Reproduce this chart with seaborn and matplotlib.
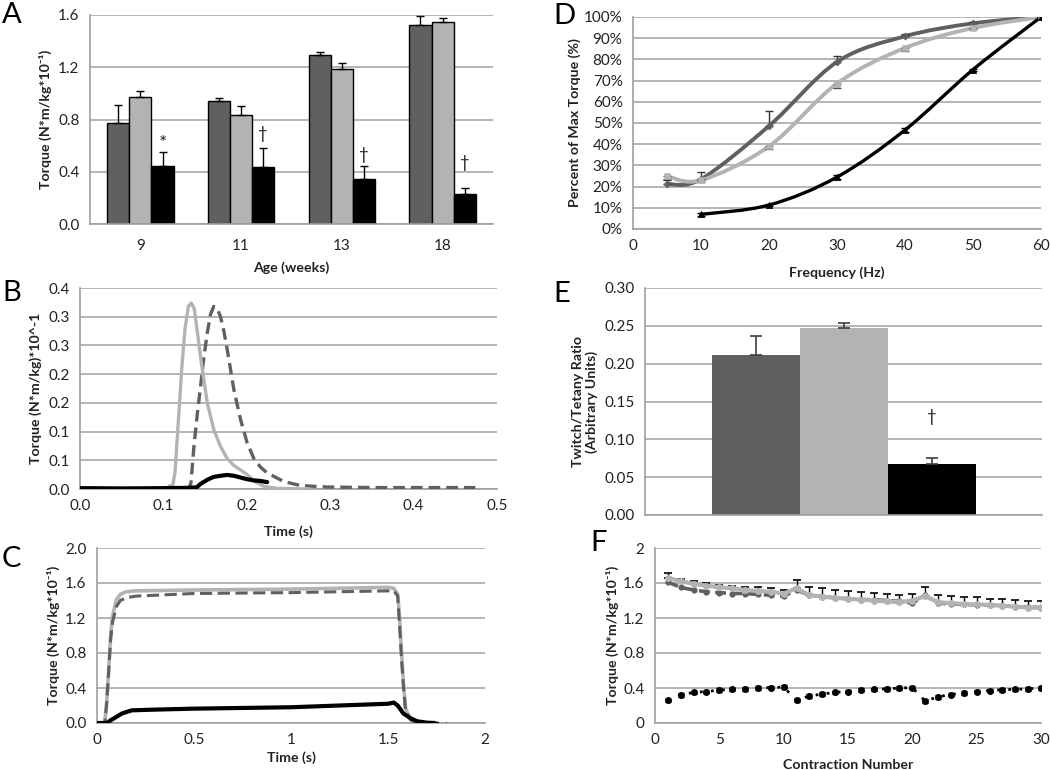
import numpy as np
import pandas as pd
import matplotlib
matplotlib.use("Agg")
import matplotlib.pyplot as plt
from matplotlib.path import Path
from matplotlib.patches import PathPatch
import seaborn as sns

sns.set_theme(style="white")
plt.rcParams['font.family'] = ['Lato', 'DejaVu Sans']

# ---------------- data ----------------
# Panel A
ages = ["9", "11", "13", "18"]
groups = ["G1", "G2", "G3"]
a_g1 = [0.777, 0.938, 1.297, 1.524]
a_g2 = [0.971, 0.836, 1.187, 1.544]
a_g3 = [0.441, 0.438, 0.344, 0.227]
a_g1_err = [0.135, 0.023, 0.020, 0.071]
a_g2_err = [0.048, 0.069, 0.046, 0.031]
a_g3_err = [0.107, 0.143, 0.099, 0.051]
a_sig = ["*", "†", "†", "†"]
a_sig_y = [0.62, 0.69, 0.53, 0.47]

# Panel D
d_x1 = [5, 10, 20, 30, 40, 50, 60]
d_g1 = [21.2, 23.5, 48.6, 78.8, 90.9, 97.0, 100.0]
d_g1_err = [2.0, 3.3, 6.9, 2.6, 1.2, 0.5, 0.0]
d_g2 = [25.0, 23.0, 39.0, 68.6, 85.4, 94.8, 100.0]
d_g2_err = [1.5, 1.0, 1.3, 1.9, 1.6, 0.6, 0.0]
d_x3 = [10, 20, 30, 40, 50, 60]
d_g3 = [6.9, 11.3, 24.5, 46.7, 75.2, 100.0]
d_g3_err = [0.6, 0.6, 0.8, 0.8, 0.5, 0.0]

# Panel B (twitch traces)
b_t2 = [0.0, 0.05, 0.100, 0.105, 0.108, 0.111, 0.114, 0.118, 0.122, 0.126, 0.130, 0.1334,
        0.137, 0.141, 0.145, 0.1526, 0.1605, 0.1685, 0.1765, 0.1845, 0.1925, 0.2005,
        0.2085, 0.220, 0.236, 0.275]
b_v2 = [0.0, 0.0, 0.0, 0.0, 0.006, 0.004, 0.03, 0.12, 0.21, 0.28, 0.318, 0.324,
        0.314, 0.27, 0.225, 0.150, 0.103, 0.074, 0.053, 0.041, 0.033, 0.025,
        0.014, 0.005, 0.001, 0.0]
b_t1 = [0.0, 0.05, 0.10, 0.13, 0.133, 0.1366, 0.1406, 0.1446, 0.1486, 0.1526, 0.1566,
        0.1605, 0.1645, 0.1685, 0.1725, 0.1765, 0.1845, 0.1925, 0.2005, 0.2085, 0.2165,
        0.2244, 0.2444, 0.2644, 0.296, 0.35, 0.474]
b_v1 = [0.0, 0.0, 0.0, 0.0, 0.01, 0.074, 0.13, 0.179, 0.23, 0.272, 0.305,
        0.318, 0.314, 0.30, 0.275, 0.243, 0.173, 0.121, 0.080, 0.053, 0.038,
        0.028, 0.013, 0.006, 0.0035, 0.0025, 0.0025]
b_t3 = [0.0, 0.05, 0.10, 0.13, 0.14, 0.1446, 0.1526, 0.16, 0.1685, 0.1765, 0.1845,
        0.1925, 0.2005, 0.2085, 0.2164, 0.2244]
b_v3 = [0.0015, 0.001, 0.0015, 0.002, 0.003, 0.009, 0.016, 0.021, 0.023, 0.0245, 0.023,
        0.020, 0.017, 0.015, 0.014, 0.012]
b_ticklabels = ["0.0", "0.1", "0.1", "0.2", "0.2", "0.3", "0.3", "0.4"]

# Panel E
e_groups = ["G1", "G2", "G3"]
e_vals = [0.212, 0.247, 0.0675]
e_err = [0.024, 0.007, 0.0084]

# Panel C (tetanus traces)
c_t2 = [0, 0.04, 0.05, 0.06, 0.07, 0.08, 0.10, 0.12, 0.15, 0.20, 0.5, 1.0, 1.5, 1.53,
        1.55, 1.56, 1.57, 1.58, 1.59, 1.61, 1.64, 1.68]
c_v2 = [0, 0, 0.25, 0.60, 0.99, 1.22, 1.41, 1.47, 1.50, 1.51, 1.52, 1.53, 1.55, 1.54,
        1.47, 1.20, 0.80, 0.45, 0.18, 0.05, 0.01, 0.0]
c_t1 = [0, 0.04, 0.05, 0.06, 0.07, 0.08, 0.10, 0.12, 0.15, 0.20, 0.5, 1.0, 1.5, 1.53,
        1.55, 1.56, 1.57, 1.58, 1.59, 1.62, 1.65]
c_v1 = [0, 0, 0.22, 0.58, 0.95, 1.15, 1.33, 1.40, 1.43, 1.45, 1.48, 1.49, 1.51, 1.51,
        1.45, 1.10, 0.72, 0.40, 0.15, 0.03, 0.005]
c_t3 = [0, 0.05, 0.07, 0.10, 0.13, 0.18, 0.3, 0.5, 1.0, 1.5, 1.53, 1.55, 1.58, 1.62,
        1.65, 1.70, 1.74]
c_v3 = [0, 0.0, 0.03, 0.07, 0.11, 0.145, 0.153, 0.164, 0.18, 0.22, 0.233, 0.20, 0.107,
        0.05, 0.02, 0.004, 0.0]
c_tail_t = [1.74, 1.80]
c_tail_v = [0.0, 0.0]

# Panel F (fatigue)
f_n = list(range(1, 31))
f_g1 = [1.61, 1.55, 1.52, 1.50, 1.49, 1.48, 1.48, 1.47, 1.46, 1.45, 1.52, 1.46, 1.445,
        1.43, 1.42, 1.41, 1.41, 1.40, 1.39, 1.37, 1.46, 1.37, 1.36, 1.355, 1.35, 1.345,
        1.34, 1.33, 1.325, 1.32]
f_g2 = [1.66, 1.62, 1.59, 1.57, 1.55, 1.54, 1.52, 1.51, 1.50, 1.48, 1.54, 1.46, 1.445,
        1.43, 1.42, 1.41, 1.40, 1.39, 1.38, 1.40, 1.45, 1.38, 1.37, 1.36, 1.355, 1.35,
        1.34, 1.33, 1.32, 1.315]
f_g2_err = [0.05, 0.025, 0.03, 0.03, 0.03, 0.03, 0.04, 0.04, 0.04, 0.045, 0.10, 0.10,
            0.095, 0.09, 0.09, 0.085, 0.085, 0.083, 0.08, 0.08, 0.11, 0.085, 0.08, 0.085,
            0.08, 0.07, 0.075, 0.08, 0.08, 0.075]
f_g3 = [0.26, 0.32, 0.35, 0.36, 0.375, 0.385, 0.39, 0.40, 0.405, 0.41, 0.26, 0.31, 0.33,
        0.35, 0.36, 0.375, 0.385, 0.39, 0.40, 0.405, 0.25, 0.30, 0.325, 0.345, 0.36, 0.37,
        0.38, 0.385, 0.39, 0.40]
f_g3_err = [0.02] * 30

# ---------------- style ----------------
C1, C2, C3 = "#606060", "#b3b3b3", "#000000"
GRID = "#a0a0a0"
TXT = "#222222"
W, H = 1050, 770

fig = plt.figure(figsize=(10.5, 7.7), dpi=100)


def add_ax(x0, y0, x1, y1):
    return fig.add_axes([x0 / W, 1 - y1 / H, (x1 - x0) / W, (y1 - y0) / H])


def style(ax, xpx, ypx, xl_dy, yl_dx):
    for s in ["top", "right"]:
        ax.spines[s].set_visible(False)
    for s in ["left", "bottom"]:
        ax.spines[s].set_color(GRID)
        ax.spines[s].set_linewidth(1.2)
    ax.yaxis.grid(True, color=GRID, lw=1.1)
    ax.xaxis.grid(False)
    ax.set_axisbelow(True)
    ax.tick_params(axis="both", which="both", direction="out", color=GRID,
                   labelsize=11, labelcolor=TXT, length=4, width=1)
    ax.xaxis.label.set_va("center")
    ax.yaxis.label.set_va("center")
    ax.xaxis.set_label_coords(0.5, -xl_dy / ypx)
    ax.yaxis.set_label_coords(-yl_dx / xpx, 0.5)


def smooth_patch(ax, xs, ys, color, lw, z=3):
    P = np.column_stack([xs, ys]).astype(float)
    n = len(P)
    verts = [P[0]]
    codes = [Path.MOVETO]
    for i in range(n - 1):
        p0 = P[i - 1] if i > 0 else P[i]
        p1 = P[i]
        p2 = P[i + 1]
        p3 = P[i + 2] if i + 2 < n else P[i + 1]
        verts += [p1 + (p2 - p0) / 6.0, p2 - (p3 - p1) / 6.0, p2]
        codes += [Path.CURVE4] * 3
    ax.add_patch(PathPatch(Path(verts, codes), fill=False, edgecolor=color, lw=lw,
                           zorder=z, capstyle="round"))


lab_kw = dict(fontsize=10.2, fontweight="bold", color=TXT)

# ---------------- Panel A ----------------
axA = add_ax(90, 15, 493, 224)
dfA = pd.DataFrame({
    "age": ages * 3,
    "torque": a_g1 + a_g2 + a_g3,
    "group": [groups[0]] * 4 + [groups[1]] * 4 + [groups[2]] * 4,
})
sns.barplot(data=dfA, x="age", y="torque", hue="group", order=ages, hue_order=groups,
            palette=[C1, C2, C3], width=0.66, gap=0, edgecolor="black", linewidth=1,
            errorbar=None, legend=False, ax=axA, zorder=2)
for gi, (vals, errs) in enumerate([(a_g1, a_g1_err), (a_g2, a_g2_err), (a_g3, a_g3_err)]):
    xs = np.arange(len(ages)) + (gi - 1) * 0.22
    axA.errorbar(xs, vals, yerr=[np.zeros(len(vals)), errs], fmt="none", ecolor="black",
                 elinewidth=1, capsize=3, capthick=1, zorder=3)
for i, s in enumerate(a_sig):
    axA.text(i + 0.22, a_sig_y[i], s, ha="center", va="center",
             fontsize=14 if s == "*" else 12, color=TXT)
axA.set_xlim(-0.5, 3.5)
axA.set_ylim(0, 1.6)
axA.set_yticks([0, 0.4, 0.8, 1.2, 1.6])
axA.set_yticklabels(["0.0", "0.4", "0.8", "1.2", "1.6"])
axA.set_xticks([-0.5, 0.5, 1.5, 2.5, 3.5], minor=True)
axA.set_xlabel("Age (weeks)", **lab_kw)
axA.set_ylabel("Torque (N*m/kg*10⁻¹)", **lab_kw)
style(axA, 403, 209, 44, 45)
axA.tick_params(axis="x", which="major", length=0, pad=11)
axA.tick_params(axis="x", which="minor", length=6)

# ---------------- Panel D ----------------
axD = add_ax(633, 17, 1041, 229)
smooth_patch(axD, d_x1, d_g1, C1, 2.8)
smooth_patch(axD, d_x1, d_g2, C2, 2.8)
smooth_patch(axD, d_x3, d_g3, C3, 2.4)
axD.errorbar(d_x1, d_g1, yerr=[np.zeros(7), d_g1_err], fmt="none", ecolor="#333333",
             elinewidth=1, capsize=3, zorder=4)
axD.errorbar(d_x1, d_g2, yerr=[d_g2_err, np.zeros(7)], fmt="none", ecolor="#555555",
             elinewidth=1, capsize=3, zorder=4)
axD.errorbar(d_x3, d_g3, yerr=d_g3_err, fmt="none", ecolor="black",
             elinewidth=1, capsize=3, zorder=4)
sns.scatterplot(x=d_x1, y=d_g1, color=C1, marker="D", s=14, edgecolor=C1, ax=axD, zorder=5)
sns.scatterplot(x=d_x1, y=d_g2, color=C2, marker="s", s=22, edgecolor=C2, ax=axD, zorder=5)
sns.scatterplot(x=d_x3, y=d_g3, color=C3, marker="^", s=22, edgecolor=C3, ax=axD, zorder=5)
axD.set_xlim(0, 60)
axD.set_ylim(0, 100)
axD.set_xticks(range(0, 61, 10))
axD.set_yticks(range(0, 101, 10))
axD.set_yticklabels([f"{v}%" for v in range(0, 101, 10)])
axD.set_xlabel("Frequency (Hz)", **lab_kw)
axD.set_ylabel("Percent of Max Torque (%)", **lab_kw)
style(axD, 408, 212, 44, 58)

# ---------------- Panel B ----------------
axB = add_ax(80, 288, 497, 489)
sns.lineplot(x=b_t1, y=b_v1, color=C1, lw=2.4, linestyle=(0, (3.5, 1.8)), ax=axB, zorder=3)
sns.lineplot(x=b_t2, y=b_v2, color=C2, lw=2.4, ax=axB, zorder=4)
sns.lineplot(x=b_t3, y=b_v3, color=C3, lw=3.0, ax=axB, zorder=5)
axB.set_xlim(0, 0.5)
axB.set_ylim(0, 0.35)
axB.set_xticks([0, 0.1, 0.2, 0.3, 0.4, 0.5])
axB.set_xticklabels(["0.0", "0.1", "0.2", "0.3", "0.4", "0.5"])
axB.set_yticks(np.arange(8) * 0.05)
axB.set_yticklabels(b_ticklabels)
axB.set_xlabel("Time (s)", **lab_kw)
axB.set_ylabel("Torque (N*m/kg)*10^-1", **lab_kw)
style(axB, 417, 201, 43, 44)

# ---------------- Panel E ----------------
axE = add_ax(645, 288, 1042, 515)
sns.barplot(x=e_groups, y=e_vals, hue=e_groups, palette=[C1, C2, C3], width=1.0,
            linewidth=0, errorbar=None, legend=False, ax=axE, zorder=2)
axE.errorbar(range(3), e_vals, yerr=[np.zeros(3), e_err], fmt="none", ecolor="#404040",
             elinewidth=1.2, capsize=4, capthick=1.2, zorder=3)
axE.text(2, 0.129, "†", ha="center", va="center", fontsize=12, color=TXT)
axE.set_xlim(-1.26, 3.25)
axE.set_ylim(0, 0.30)
axE.set_yticks(np.arange(7) * 0.05)
axE.set_yticklabels([f"{v:.2f}" for v in np.arange(7) * 0.05])
axE.set_xticks([])
axE.set_xlabel("")
axE.set_ylabel("Twitch/Tetany Ratio\n(Arbitrary Units)", linespacing=1.1, **lab_kw)
style(axE, 397, 227, 40, 60)

# ---------------- Panel C ----------------
axC = add_ax(97, 548, 485, 723)
sns.lineplot(x=c_t1, y=c_v1, color=C1, lw=2.2, linestyle=(0, (4, 1.8)), ax=axC, zorder=4)
sns.lineplot(x=c_t2, y=c_v2, color=C2, lw=2.6, ax=axC, zorder=3)
sns.lineplot(x=c_t3, y=c_v3, color=C3, lw=3.0, ax=axC, zorder=5)
sns.lineplot(x=c_tail_t, y=c_tail_v, color=C3, lw=2.5, linestyle=(0, (1, 2)), ax=axC, zorder=5)
axC.set_xlim(0, 2)
axC.set_ylim(0, 2.0)
axC.set_xticks([0, 0.5, 1, 1.5, 2])
axC.set_xticklabels(["0", "0.5", "1", "1.5", "2"])
axC.set_yticks([0, 0.4, 0.8, 1.2, 1.6, 2.0])
axC.set_yticklabels(["0.0", "0.4", "0.8", "1.2", "1.6", "2.0"])
axC.set_xlabel("Time (s)", **lab_kw)
axC.set_ylabel("Torque (N*m/kg*10⁻¹)", **lab_kw)
style(axC, 388, 175, 35, 44)

# ---------------- Panel F ----------------
axF = add_ax(655, 548, 1041, 723)
axF.errorbar(f_n, f_g2, yerr=[np.zeros(30), f_g2_err], fmt="none", ecolor="black",
             elinewidth=1, capsize=3, capthick=1.2, zorder=2)
sns.lineplot(x=f_n, y=f_g1, color=C1, lw=2.6, linestyle=(0, (3, 1.5)), marker="o",
             markersize=4.5, markeredgewidth=0, ax=axF, zorder=4)
sns.lineplot(x=f_n, y=f_g2, color=C2, lw=3.0, marker="o", markersize=5,
             markeredgewidth=0, ax=axF, zorder=5)
axF.errorbar(f_n, f_g3, yerr=f_g3_err, fmt="none", ecolor="black", elinewidth=1,
             capsize=2.5, zorder=3)
sns.lineplot(x=f_n, y=f_g3, color=C3, lw=2.0, linestyle=(0, (1, 3)), marker="o",
             markersize=5, markeredgewidth=0, ax=axF, zorder=6)
axF.set_xlim(0, 30)
axF.set_ylim(0, 2)
axF.set_xticks(range(0, 31, 5))
axF.set_yticks([0, 0.4, 0.8, 1.2, 1.6, 2])
axF.set_yticklabels(["0", "0.4", "0.8", "1.2", "1.6", "2"])
axF.set_xlabel("Contraction Number", **lab_kw)
axF.set_ylabel("Torque (N*m/kg*10⁻¹)", **lab_kw)
style(axF, 386, 175, 42, 43)

# ---------------- panel letters ----------------
for letter, (x, y) in {"A": (2, 2), "B": (2, 280), "C": (2, 546),
                       "D": (553, 3), "E": (553, 281), "F": (590, 530)}.items():
    fig.text(x / W, 1 - y / H, letter, fontsize=21, color="black", ha="left", va="top")

fig.savefig("out.png", dpi=100, facecolor="white")
